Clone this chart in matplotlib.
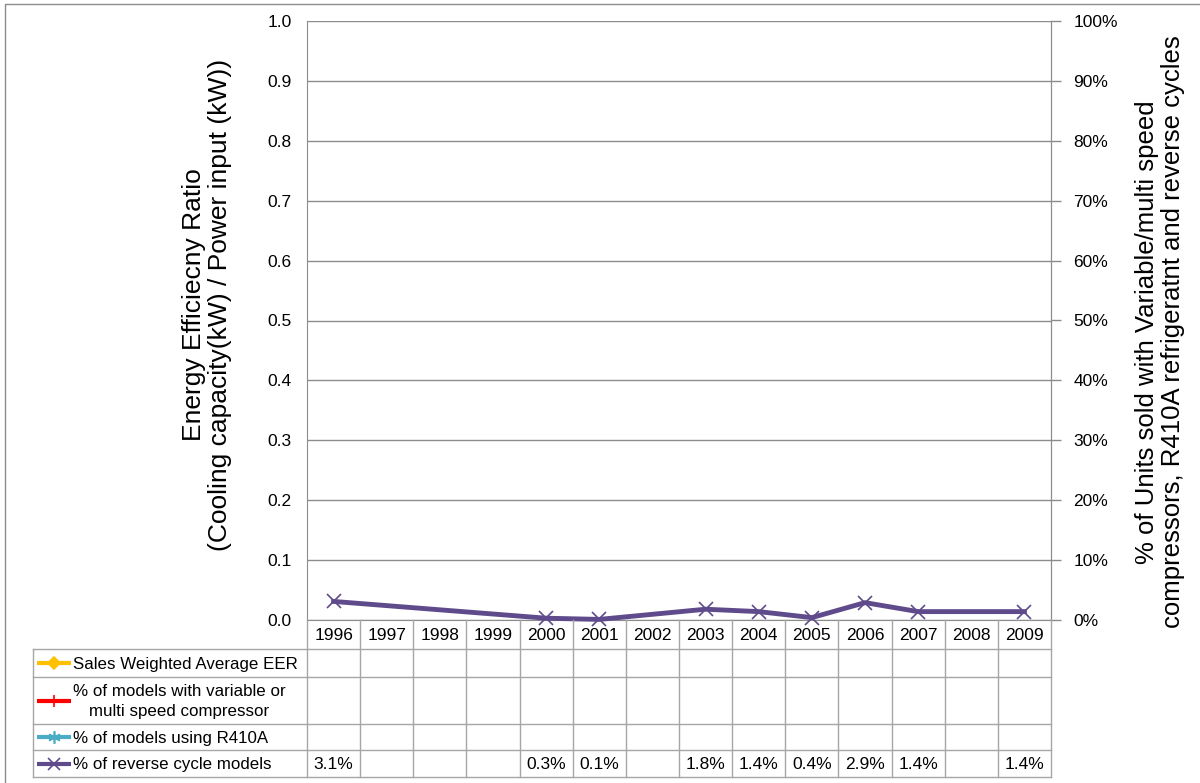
import matplotlib.pyplot as plt
import numpy as np

plt.rcParams['font.family'] = ['Liberation Sans', 'DejaVu Sans']

years = ['1996', '1997', '1998', '1999', '2000', '2001', '2002',
         '2003', '2004', '2005', '2006', '2007', '2008', '2009']
series_names = ['Sales Weighted Average EER',
                '% of models with variable or\nmulti speed compressor',
                '% of models using R410A',
                '% of reverse cycle models']
series_colors = ['#FFC000', '#FF0000', '#4BACC6', '#5F4B8B']
series_markers = ['D', '|', (6, 2, 0), 'x']

eer = [None] * 14
variable_speed = [None] * 14
r410a = [None] * 14
reverse_cycle = [3.1, None, None, None, 0.3, 0.1, None,
                 1.8, 1.4, 0.4, 2.9, 1.4, None, 1.4]
series_values = [eer, variable_speed, r410a, reverse_cycle]

W, H = 1200, 783
fig = plt.figure(figsize=(12, 7.83), dpi=100)

# chart area in pixel units
left, right, top, bottom = 307, 1051, 21, 620
ax = fig.add_axes([left / W, 1 - bottom / H, (right - left) / W, (bottom - top) / H])
ax.set_xlim(-0.5, len(years) - 0.5)
ax.set_ylim(0, 1.0)
ax.set_yticks(np.arange(0, 1.01, 0.1))
ax.set_yticklabels(['%.1f' % v for v in np.arange(0, 1.01, 0.1)], fontsize=12.5)
ax.tick_params(axis='y', length=0, pad=11)
ax.set_xticks([])
ax.grid(axis='y', color='#8C8C8C', linewidth=1)
ax.set_axisbelow(True)
for s in ax.spines.values():
    s.set_color('#8C8C8C')
ax.spines['top'].set_visible(False)

ax2 = ax.twinx()
ax2.set_ylim(0, 100)
ax2.set_yticks(np.arange(0, 101, 10))
ax2.set_yticklabels(['%d%%' % v for v in range(0, 101, 10)], fontsize=12.5)
ax2.tick_params(axis='y', length=7, width=1, color='#8C8C8C', pad=9)
for s in ax2.spines.values():
    s.set_visible(False)
ax2.spines['right'].set_visible(True)
ax2.spines['right'].set_color('#8C8C8C')

# axis titles
fig.text(207 / W, 1 - 305 / H,
         'Energy Efficiecny Ratio\n(Cooling capacity(kW) / Power input (kW))',
         rotation=90, ha='center', va='center', multialignment='center',
         fontsize=19, linespacing=1.1)
fig.text(1160 / W, 1 - 332 / H,
         '% of Units sold with Variable/multi speed\ncompressors, R410A refrigeratnt and reverse cycles',
         rotation=90, ha='center', va='center', multialignment='center',
         fontsize=18.5, linespacing=1.15)

# series lines (gaps are bridged, values plotted as fractions on the EER scale)
for vals, col, mk in zip(series_values, series_colors, series_markers):
    xs = [i for i, v in enumerate(vals) if v is not None]
    ys = [v / 100 for v in vals if v is not None]
    if xs:
        ax.plot(xs, ys, color=col, linewidth=3.5, marker=mk, markersize=10,
                markeredgewidth=1.2, clip_on=False, zorder=3)

# data table drawn underneath in pixel coordinates
ov = fig.add_axes([0, 0, 1, 1])
ov.set_xlim(0, W)
ov.set_ylim(H, 0)
ov.axis('off')
ov.patch.set_alpha(0)

grid_col = '#A6A6A6'
edges = [ax.transData.transform((i - 0.5, 0))[0] for i in range(len(years) + 1)]
centers = [(edges[i] + edges[i + 1]) / 2 for i in range(len(years))]
row_edges = [620, 649, 677, 724, 750, 777]
leg_left = 33

# outer frame (top and left edges)
ov.plot([W, 5, 5], [4, 4, H], color='#8C8C8C', linewidth=1)

for e in edges:
    ov.plot([e, e], [row_edges[0], row_edges[-1]], color=grid_col, linewidth=1)
ov.plot([leg_left, leg_left], [row_edges[1], row_edges[-1]], color=grid_col, linewidth=1)
for r in row_edges[1:]:
    ov.plot([leg_left, edges[-1]], [r, r], color=grid_col, linewidth=1)

for c, y in zip(centers, years):
    ov.text(c, (row_edges[0] + row_edges[1]) / 2 + 1, y, ha='center', va='center', fontsize=12.5)

for k, (name, col, mk, vals) in enumerate(zip(series_names, series_colors,
                                               series_markers, series_values)):
    yc = (row_edges[k + 1] + row_edges[k + 2]) / 2
    ov.plot([37, 71], [yc, yc], color=col, linewidth=3, solid_capstyle='butt')
    ov.plot([54], [yc], color=col, marker=mk, markersize=6 if mk == 'D' else 9,
            markeredgewidth=1.2)
    ov.text(73, yc + 1, name, ha='left', va='center', multialignment='center',
            fontsize=12.2, linespacing=1.4)
    for c, v in zip(centers, vals):
        if v is not None:
            ov.text(c, yc + 1, '%.1f%%' % v, ha='center', va='center', fontsize=12.5)

fig.savefig('out.png', dpi=100)
